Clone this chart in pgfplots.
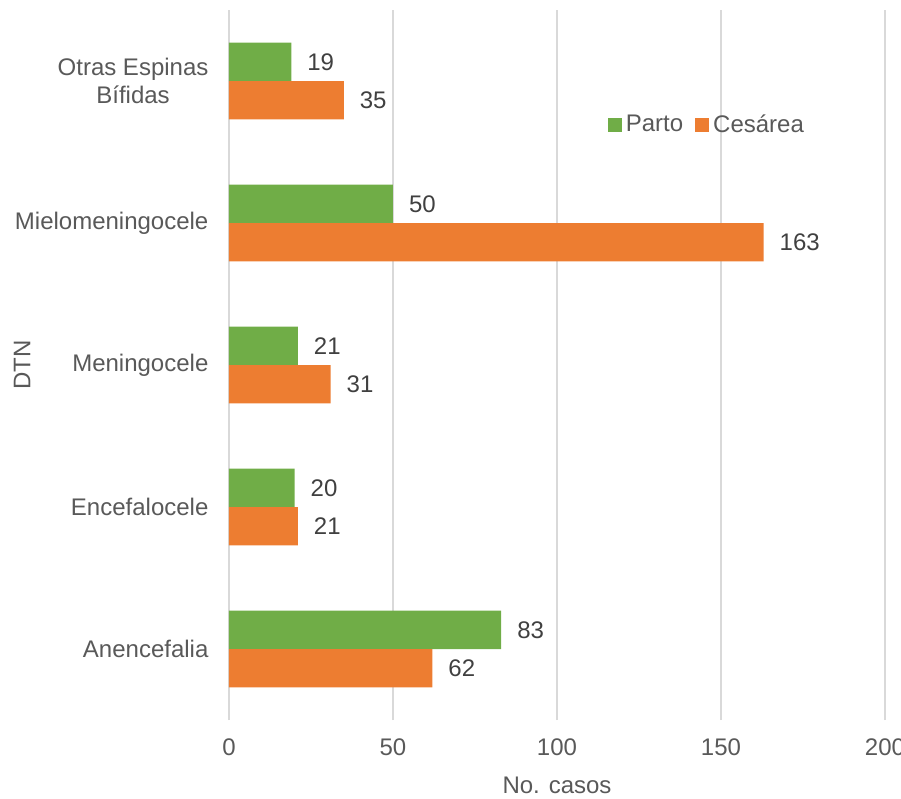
\documentclass[border=0pt]{standalone}
\usepackage{fontspec}
\setmainfont{Liberation Sans}
\usepackage{pgfplots}
\pgfplotsset{compat=1.18}
\definecolor{cgreen}{HTML}{70AD47}
\definecolor{corange}{HTML}{ED7D31}
\definecolor{ctext}{HTML}{595959}
\definecolor{clabel}{HTML}{404040}
\definecolor{cgrid}{HTML}{D9D9D9}
\newcommand\lbl{\fontsize{12}{13.6}\selectfont}
\begin{document}
\begin{tikzpicture}[x=1pt,y=1pt]
\begin{axis}[
  at={(114.5pt,39.5pt)}, anchor=south west,
  scale only axis, width=328pt, height=355pt,
  xbar, bar width=0.27,
  xmin=0, xmax=200, ymin=-0.5, ymax=4.5,
  xtick={0,50,100,150,200},
  ytick={0,1,2,3,4},
  yticklabels={Anencefalia, Encefalocele, Meningocele, Mielomeningocele, {Otras Espinas\\Bífidas}},
  /pgf/number format/assume math mode=true,
  xmajorgrids, major grid style={cgrid, line width=0.75pt},
  axis line style={draw=none},
  tick style={draw=none},
  ticklabel style={font=\lbl, text=ctext},
  yticklabel style={align=center, xshift=-2.5pt},
  xticklabel style={yshift=-6pt},
  xlabel={No. casos}, ylabel={DTN},
  xlabel style={font=\lbl, text=ctext, at={(axis description cs:0.5,-0.092)}, anchor=center},
  ylabel style={font=\lbl, text=ctext, at={(axis description cs:-0.3155,0.5)}, anchor=center, rotate=0},
  legend style={at={(axis description cs:0.73,0.838)}, anchor=center, draw=none, fill=none,
    font=\lbl, text=ctext, legend columns=-1,
    /tikz/every even column/.append style={column sep=4pt},
    nodes={inner sep=2pt}},
  nodes near coords,
  every node near coord/.append style={anchor=west, xshift=4.5pt, font=\lbl, text=clabel},
]
\addplot[fill=cgreen, draw=none, bar shift=0.135,
  legend image code/.code={\fill[cgreen] (0pt,-3.5pt) rectangle (7pt,3.5pt);}]
  coordinates {(83,0) (20,1) (21,2) (50,3) (19,4)};
\addlegendentry{Parto}
\addplot[fill=corange, draw=none, bar shift=-0.135,
  legend image code/.code={\fill[corange] (0pt,-3.5pt) rectangle (7pt,3.5pt);}]
  coordinates {(62,0) (21,1) (31,2) (163,3) (35,4)};
\addlegendentry{Cesárea}
\end{axis}
\pgfresetboundingbox
\useasboundingbox (0pt,0pt) rectangle (450.5pt,399.5pt);
\end{tikzpicture}
\end{document}
